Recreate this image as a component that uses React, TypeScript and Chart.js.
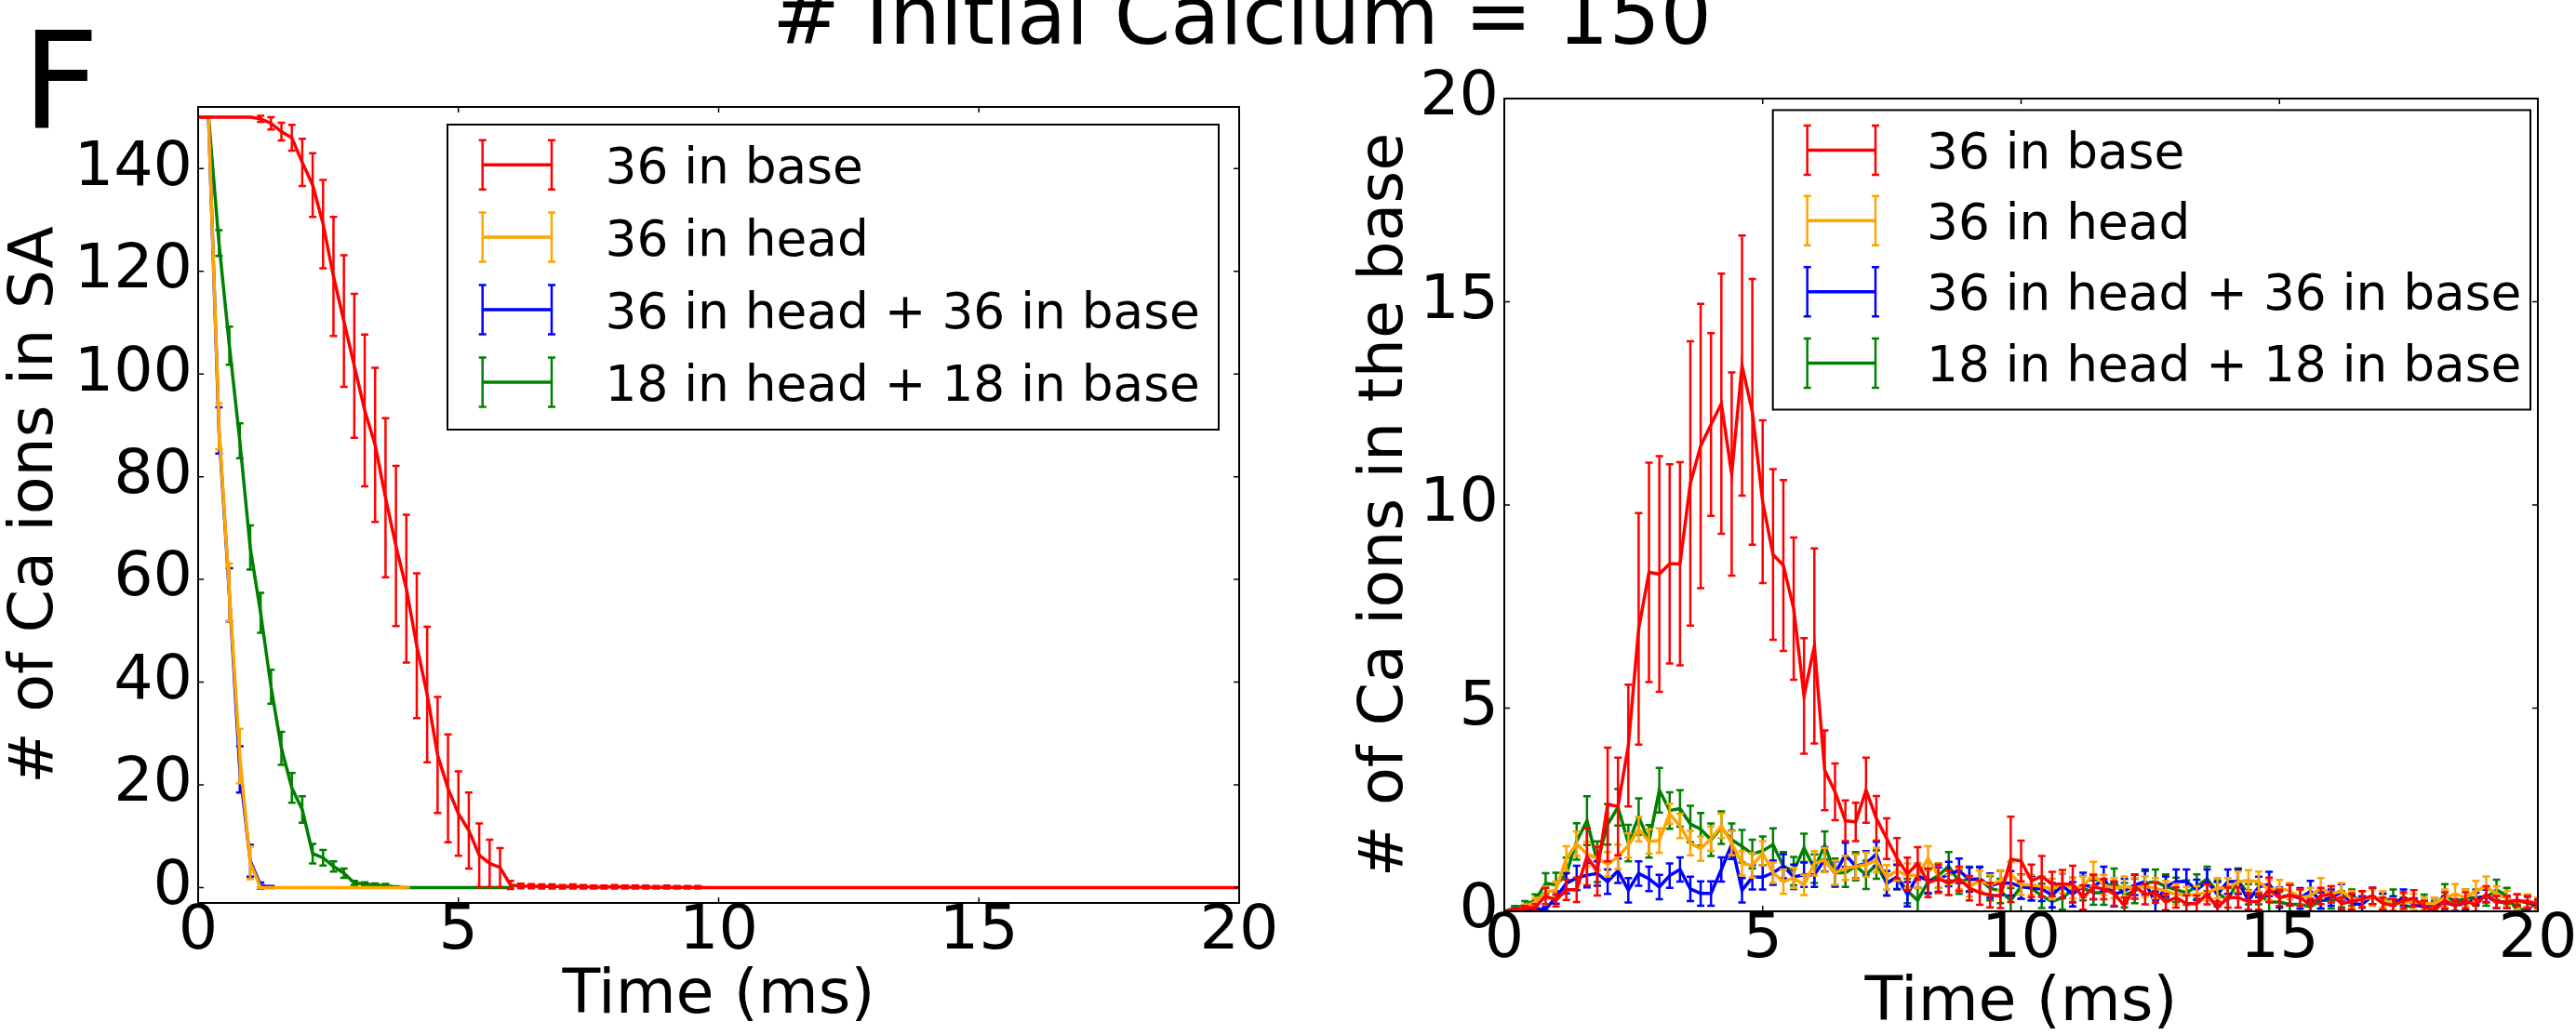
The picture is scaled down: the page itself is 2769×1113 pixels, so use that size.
import React, { useEffect, useRef } from 'react';
import { Chart, registerables } from 'chart.js';

Chart.register(...registerables);

const FONT = "'DejaVu Sans', 'Bitstream Vera Sans', sans-serif";

// ---------- data ----------
const timeMs = [0,0.2,0.4,0.6,0.8,1,1.2,1.4,1.6,1.8,2,2.2,2.4,2.6,2.8,3,3.2,3.4,3.6,3.8,4,4.2,4.4,4.6,4.8,5,5.2,5.4,5.6,5.8,6,6.2,6.4,6.6,6.8,7,7.2,7.4,7.6,7.8,8,8.2,8.4,8.6,8.8,9,9.2,9.4,9.6,9.8,10,10.2,10.4,10.6,10.8,11,11.2,11.4,11.6,11.8,12,12.2,12.4,12.6,12.8,13,13.2,13.4,13.6,13.8,14,14.2,14.4,14.6,14.8,15,15.2,15.4,15.6,15.8,16,16.2,16.4,16.6,16.8,17,17.2,17.4,17.6,17.8,18,18.2,18.4,18.6,18.8,19,19.2,19.4,19.6,19.8,20];

const seriesNames = ['36 in base', '36 in head', '36 in head + 36 in base', '18 in head + 18 in base'];
const seriesColors = ['#ff0000', '#ffa500', '#0000ff', '#008000'];

const xTicks = [0, 5, 10, 15, 20];
const leftYTicks = [0, 20, 40, 60, 80, 100, 120, 140];
const rightYTicks = [0, 5, 10, 15, 20];

// Left panel: # of Ca ions in SA
const redSA = [150,150,150,150,150,150,149.7,148.8,147.2,146.0,141.2,136.8,129.2,119.0,110.3,101.6,92.9,86.2,75.9,66.5,58.2,47.1,37.6,25.8,19.3,14.4,11.1,6.3,4.7,3.9,0.5,0.3,0.25,0.2,0.2,0.15,0.2,0.15,0.1,0.1,0.15,0.1,0.1,0.1,0.05,0.1,0.05,0.05,0.05,0,0,0,0,0,0,0,0,0,0,0,0,0,0,0,0,0,0,0,0,0,0,0,0,0,0,0,0,0,0,0,0,0,0,0,0,0,0,0,0,0,0,0,0,0,0,0,0,0,0,0,0];
const redSAErr = [0,0,0,0,0,0,0.6,1.2,1.7,2.5,4.6,6.2,8.6,11.6,12.8,14.0,14.8,15.0,15.5,15.6,14.4,14.1,13.2,11.3,10.5,8.2,7.4,6.2,4.6,3.8,0.8,0.45,0.4,0.4,0.4,0.35,0.4,0.35,0.3,0.3,0.35,0.3,0.3,0.3,0.25,0.3,0.25,0.25,0.25,0,0,0,0,0,0,0,0,0,0,0,0,0,0,0,0,0,0,0,0,0,0,0,0,0,0,0,0,0,0,0,0,0,0,0,0,0,0,0,0,0,0,0,0,0,0,0,0,0,0,0,0];
const orangeSA = [150,150,89.8,57.5,25.6,4.8,0,0,0,0,0,0,0,0,0,0,0,0,0,0,0];
const orangeSAErr = [0,0,4.5,5.6,5.3,3.2,0.1,0,0,0,0,0,0,0,0,0,0,0,0,0,0];
const blueSA = [150,150,89.0,57.0,23.0,5.2,0.4,0.1];
const blueSAErr = [0,0,4.5,5.2,4.5,3.1,0.6,0.2];
const greenSA = [150,150,125.5,105.5,87.0,66.2,53.5,39.1,27.1,19.4,15.2,6.6,5.8,4.1,2.8,0.9,0.7,0.5,0.4,0.1,0,0,0,0,0,0,0,0,0,0,0];
const greenSAErr = [0,0,2.5,3.7,3.4,4.3,3.9,3.3,3.2,2.9,2.6,1.9,1.5,1.0,0.9,0.4,0.35,0.3,0.3,0.15,0,0,0,0,0,0,0,0,0,0,0];

// Right panel: # of Ca ions in the base
const redBase = [0,0.04,0.08,0.1,0.38,0.27,0.53,0.53,1.34,0.99,2.63,2.58,4.08,6.95,8.34,8.3,8.55,8.55,10.53,11.45,11.98,12.49,10.76,13.43,12.29,10.08,8.78,8.51,7.45,5.3,6.53,3.47,2.94,2.23,2.2,2.98,2.29,1.79,1.3,0.92,1.18,0.7,0.8,0.7,0.8,0.57,0.46,0.4,0.38,1.28,1.24,0.75,0.86,0.67,0.67,0.67,0.34,0.6,0.55,0.44,0.14,0.61,0.42,0.46,0.23,0.34,0.19,0.19,0.42,0.09,0.34,0.34,0.24,0.24,0.53,0.33,0.4,0.34,0.15,0.38,0.42,0.19,0.24,0.3,0.38,0.19,0.15,0.27,0.32,0.11,0.02,0.27,0.13,0.27,0.15,0.42,0.23,0.23,0.27,0.23,0.19];
const redBaseErr = [0,0.03,0.05,0.08,0.2,0.15,0.25,0.3,0.7,0.6,1.4,1.2,1.5,2.85,2.7,2.9,2.45,2.5,3.5,3.5,2.25,3.2,2.5,3.2,3.27,2.0,2.1,2.1,1.75,1.42,2.4,0.98,0.7,0.5,0.47,0.8,0.55,0.5,0.5,0.4,0.4,0.35,0.35,0.3,0.3,0.3,0.3,0.3,0.3,1.05,0.5,0.4,0.5,0.3,0.35,0.45,0.3,0.3,0.25,0.3,0.2,0.3,0.25,0.25,0.2,0.25,0.2,0.2,0.25,0.15,0.25,0.25,0.2,0.2,0.3,0.2,0.25,0.2,0.15,0.2,0.2,0.15,0.2,0.2,0.2,0.15,0.15,0.2,0.2,0.15,0.1,0.2,0.15,0.2,0.15,0.2,0.15,0.15,0.15,0.15,0.1];
const orangeBase = [0,0.02,0.11,0.23,0.46,0.53,1.3,1.66,1.41,1.3,1.16,1.34,1.62,2.02,1.72,1.74,2.4,2.1,1.68,1.54,1.79,2.1,1.68,1.18,1.13,1.43,0.95,0.73,0.82,0.65,1.18,1.26,0.95,1.07,1.1,1.15,1.26,0.84,1.0,0.88,0.88,1.3,0.88,0.65,0.8,0.61,0.75,0.65,0.76,0.92,0.65,0.65,0.61,0.55,0.69,0.57,0.61,0.92,0.65,0.57,0.61,0.57,0.61,0.57,0.5,0.42,0.4,0.42,0.46,0.57,0.57,0.73,0.76,0.73,0.53,0.57,0.5,0.34,0.38,0.57,0.42,0.5,0.3,0.3,0.34,0.3,0.17,0.23,0.23,0.19,0.19,0.34,0.42,0.34,0.5,0.61,0.42,0.31,0.23,0.27,0.19];
const orangeBaseErr = [0,0.02,0.06,0.1,0.15,0.2,0.3,0.3,0.3,0.3,0.3,0.3,0.3,0.3,0.3,0.3,0.25,0.3,0.3,0.3,0.3,0.3,0.3,0.3,0.3,0.3,0.25,0.3,0.25,0.25,0.3,0.3,0.3,0.3,0.3,0.3,0.3,0.3,0.25,0.3,0.3,0.3,0.3,0.25,0.25,0.25,0.25,0.25,0.25,0.3,0.25,0.25,0.25,0.25,0.25,0.25,0.25,0.3,0.25,0.25,0.25,0.25,0.25,0.25,0.25,0.25,0.2,0.2,0.2,0.25,0.25,0.25,0.25,0.25,0.25,0.2,0.2,0.2,0.2,0.25,0.2,0.2,0.2,0.2,0.2,0.2,0.15,0.2,0.2,0.15,0.15,0.2,0.25,0.2,0.25,0.25,0.2,0.2,0.2,0.15,0.15];
const blueBase = [0,0,0.02,0.04,0.06,0.34,0.69,0.82,0.89,0.93,0.73,1.0,0.52,0.93,0.8,0.6,0.88,1.03,0.55,0.44,0.44,1.03,1.64,0.52,0.84,0.84,0.95,1.11,0.85,0.9,0.9,1.28,0.93,1.39,1.11,1.18,1.41,0.69,0.85,0.42,0.88,0.75,0.78,0.92,1.0,0.78,0.8,0.63,0.7,0.69,0.61,0.57,0.55,0.4,0.63,0.42,0.65,0.6,0.8,0.42,0.5,0.65,0.73,0.19,0.61,0.73,0.73,0.53,0.73,0.42,0.73,0.73,0.27,0.6,0.67,0.34,0.4,0.32,0.5,0.27,0.34,0.47,0.19,0.17,0.38,0.23,0.17,0.34,0.17,0.11,0.19,0.21,0.15,0.19,0.31,0.38,0.23,0.23,0.27,0.21,0.17];
const blueBaseErr = [0,0,0.02,0.04,0.05,0.15,0.25,0.3,0.3,0.3,0.3,0.3,0.3,0.3,0.3,0.3,0.3,0.3,0.3,0.3,0.3,0.3,0.35,0.3,0.3,0.3,0.3,0.3,0.3,0.3,0.3,0.3,0.3,0.3,0.3,0.3,0.3,0.3,0.3,0.3,0.3,0.3,0.3,0.3,0.3,0.3,0.3,0.3,0.3,0.3,0.3,0.3,0.3,0.3,0.3,0.3,0.3,0.3,0.3,0.3,0.3,0.25,0.3,0.3,0.25,0.3,0.3,0.25,0.3,0.3,0.3,0.3,0.25,0.25,0.3,0.25,0.25,0.25,0.25,0.2,0.2,0.2,0.2,0.2,0.2,0.2,0.2,0.2,0.15,0.15,0.15,0.15,0.15,0.15,0.15,0.15,0.15,0.15,0.15,0.15,0.1];
const greenBase = [0,0.08,0.15,0.27,0.69,0.65,0.92,1.72,2.23,1.22,2.14,2.56,1.68,2.33,1.72,2.98,2.48,2.53,2.15,2.02,1.76,2.06,1.76,1.6,1.41,1.49,1.64,1.11,0.99,1.56,1.05,1.62,0.95,0.95,1.11,0.9,1.15,0.69,0.84,0.5,0.27,0.73,0.88,1.11,0.73,0.8,0.78,0.57,0.5,0.27,0.61,0.57,0.38,0.24,0.34,0.53,0.57,0.46,0.46,0.75,0.4,0.5,0.69,0.73,0.61,0.53,0.46,0.61,0.8,0.46,0.27,0.76,0.42,0.42,0.23,0.23,0.17,0.17,0.11,0.27,0.27,0.3,0.34,0.29,0.38,0.24,0.34,0.14,0.11,0.21,0.11,0.42,0.21,0.34,0.34,0.34,0.53,0.38,0.02,0.08,0.19];
const greenBaseErr = [0,0.05,0.1,0.15,0.25,0.3,0.4,0.45,0.6,0.5,0.5,0.45,0.45,0.45,0.4,0.55,0.45,0.45,0.45,0.4,0.4,0.4,0.4,0.4,0.35,0.35,0.4,0.35,0.35,0.35,0.35,0.35,0.35,0.35,0.35,0.35,0.35,0.3,0.3,0.3,0.3,0.3,0.3,0.35,0.3,0.3,0.3,0.3,0.3,0.3,0.3,0.3,0.3,0.3,0.3,0.3,0.3,0.3,0.3,0.3,0.3,0.3,0.3,0.3,0.3,0.3,0.3,0.3,0.3,0.3,0.3,0.3,0.25,0.25,0.25,0.25,0.2,0.2,0.2,0.2,0.2,0.2,0.2,0.2,0.2,0.2,0.2,0.2,0.2,0.2,0.15,0.25,0.2,0.2,0.2,0.2,0.25,0.2,0.15,0.15,0.15];

// ---------- helpers ----------
function points(values: number[]) {
  return values.map((v, i) => ({ x: timeMs[i], y: v }));
}

const errorBarPlugin = {
  id: 'errorBars',
  afterDatasetDraw(chart: any, args: any) {
    const ds = chart.data.datasets[args.index];
    const errs: number[] | undefined = ds.errors;
    if (!errs) return;
    const xs = chart.scales.x;
    const ys = chart.scales.y;
    const a = chart.chartArea;
    const ctx = chart.ctx;
    const cap = 4;
    ctx.save();
    ctx.beginPath();
    ctx.rect(a.left, a.top, a.right - a.left, a.bottom - a.top);
    ctx.clip();
    ctx.strokeStyle = ds.borderColor;
    ctx.lineWidth = 2.5;
    ctx.beginPath();
    ds.data.forEach((p: any, i: number) => {
      const e = errs[i];
      if (e === undefined || e === null) return;
      const px = xs.getPixelForValue(p.x);
      const y1 = ys.getPixelForValue(p.y - e);
      const y2 = ys.getPixelForValue(p.y + e);
      ctx.moveTo(px, y1);
      ctx.lineTo(px, y2);
      ctx.moveTo(px - cap, y1);
      ctx.lineTo(px + cap, y1);
      ctx.moveTo(px - cap, y2);
      ctx.lineTo(px + cap, y2);
    });
    ctx.stroke();
    ctx.restore();
  },
};

const frameTicksPlugin = {
  id: 'frameTicks',
  afterDatasetsDraw(chart: any) {
    const ctx = chart.ctx;
    const a = chart.chartArea;
    const xs = chart.scales.x;
    const ys = chart.scales.y;
    const L = 6;
    ctx.save();
    ctx.strokeStyle = '#000';
    ctx.lineWidth = 1.5;
    ctx.beginPath();
    xs.ticks.forEach((t: any) => {
      const p = xs.getPixelForValue(t.value);
      ctx.moveTo(p, a.bottom);
      ctx.lineTo(p, a.bottom - L);
      ctx.moveTo(p, a.top);
      ctx.lineTo(p, a.top + L);
    });
    ys.ticks.forEach((t: any) => {
      const p = ys.getPixelForValue(t.value);
      ctx.moveTo(a.left, p);
      ctx.lineTo(a.left + L, p);
      ctx.moveTo(a.right, p);
      ctx.lineTo(a.right - L, p);
    });
    ctx.stroke();
    ctx.lineWidth = 2;
    ctx.strokeRect(a.left, a.top, a.right - a.left, a.bottom - a.top);
    ctx.restore();
  },
};

const errLegendPlugin = {
  id: 'errLegend',
  afterDraw(chart: any, _args: any, opts: any) {
    if (!opts || !opts.box) return;
    const ctx = chart.ctx;
    const b = opts.box;
    ctx.save();
    ctx.fillStyle = '#fff';
    ctx.fillRect(b.x1, b.y1, b.x2 - b.x1, b.y2 - b.y1);
    ctx.strokeStyle = '#000';
    ctx.lineWidth = 2;
    ctx.strokeRect(b.x1, b.y1, b.x2 - b.x1, b.y2 - b.y1);
    const half = 26.5;
    const cap = 4;
    chart.data.datasets.forEach((ds: any, i: number) => {
      const y = opts.rows[i];
      ctx.strokeStyle = ds.borderColor;
      ctx.lineWidth = 3.5;
      ctx.beginPath();
      ctx.moveTo(opts.hx1, y);
      ctx.lineTo(opts.hx2, y);
      ctx.stroke();
      ctx.lineWidth = 2.5;
      ctx.beginPath();
      [opts.hx1, opts.hx2].forEach((hx: number) => {
        ctx.moveTo(hx, y - half);
        ctx.lineTo(hx, y + half);
        ctx.moveTo(hx - cap, y - half);
        ctx.lineTo(hx + cap, y - half);
        ctx.moveTo(hx - cap, y + half);
        ctx.lineTo(hx + cap, y + half);
      });
      ctx.stroke();
      ctx.fillStyle = '#000';
      ctx.font = `53.3px ${FONT}`;
      ctx.textBaseline = 'alphabetic';
      ctx.textAlign = 'left';
      ctx.fillText(ds.label, opts.textX, y + 19.5);
    });
    ctx.restore();
  },
};

function makeConfig(p: any) {
  // dataset 0 (red) is drawn last (on top), green first (underneath)
  const datasets = p.series.map((s: any, i: number) => ({
    label: seriesNames[i],
    data: points(s.values),
    errors: s.errors,
    borderColor: seriesColors[i],
    backgroundColor: seriesColors[i],
    borderWidth: 3.5,
    pointRadius: 0,
    tension: 0,
    fill: false,
    order: i,
  }));
  return {
    type: 'line',
    data: { datasets },
    plugins: [errorBarPlugin, frameTicksPlugin, errLegendPlugin],
    options: {
      responsive: false,
      animation: false,
      devicePixelRatio: 1,
      layout: { padding: p.padding },
      plugins: {
        legend: { display: false },
        tooltip: { enabled: false },
        errLegend: p.legend,
      },
      scales: {
        x: {
          type: 'linear',
          min: 0,
          max: 20,
          afterBuildTicks: (s: any) => {
            s.ticks = xTicks.map((v) => ({ value: v }));
          },
          afterFit: (s: any) => {
            s.height = p.xAxisHeight;
            s.paddingLeft = 0;
            s.paddingRight = 0;
          },
          grid: { display: false, drawTicks: false },
          border: { display: false },
          ticks: {
            color: '#000',
            font: { family: FONT, size: 66.7, lineHeight: 1.0 },
            padding: p.xTickPadding,
            maxRotation: 0,
            autoSkip: false,
          },
          title: {
            display: true,
            text: 'Time (ms)',
            color: '#000',
            font: { family: FONT, size: 66.7, lineHeight: 1.0 },
            padding: { top: 0, bottom: p.xTitlePad },
          },
        },
        y: {
          type: 'linear',
          min: p.yMin,
          max: p.yMax,
          afterBuildTicks: (s: any) => {
            s.ticks = p.yTicks.map((v: number) => ({ value: v }));
          },
          afterFit: (s: any) => {
            s.width = p.yAxisWidth;
            s.paddingTop = 0;
            s.paddingBottom = 0;
          },
          grid: { display: false, drawTicks: false },
          border: { display: false },
          ticks: {
            color: '#000',
            font: { family: FONT, size: 66.7, lineHeight: 1.0 },
            padding: 6,
            autoSkip: false,
          },
          title: {
            display: true,
            text: p.yTitle,
            color: '#000',
            font: { family: FONT, size: 66.7, lineHeight: 1.16 },
            padding: { top: p.yTitlePad, bottom: 0 },
          },
        },
      },
    },
  };
}

export default function App() {
  const leftRef = useRef<HTMLCanvasElement | null>(null);
  const rightRef = useRef<HTMLCanvasElement | null>(null);

  useEffect(() => {
    Chart.defaults.font.family = FONT;
    Chart.defaults.color = '#000';
    const left = new Chart(
      leftRef.current as HTMLCanvasElement,
      makeConfig({
        series: [
          { values: redSA, errors: redSAErr },
          { values: orangeSA, errors: orangeSAErr },
          { values: blueSA, errors: blueSAErr },
          { values: greenSA, errors: greenSAErr },
        ],
        padding: { left: 0, top: 115, right: 68, bottom: 0 },
        xAxisHeight: 142,
        yAxisWidth: 213,
        yMin: -3,
        yMax: 152,
        yTicks: leftYTicks,
        yTitle: '# of Ca ions in SA',
        yTitlePad: 0,
        xTickPadding: -1.5,
        xTitlePad: 7.7,
        legend: {
          box: { x1: 481, y1: 134, x2: 1310, y2: 462 },
          rows: [177.3, 255, 333, 411],
          hx1: 518.7,
          hx2: 593,
          textX: 650.5,
        },
      }) as any
    );
    const right = new Chart(
      rightRef.current as HTMLCanvasElement,
      makeConfig({
        series: [
          { values: redBase, errors: redBaseErr },
          { values: orangeBase, errors: orangeBaseErr },
          { values: blueBase, errors: blueBaseErr },
          { values: greenBase, errors: greenBaseErr },
        ],
        padding: { left: 0, top: 106, right: 41, bottom: 0 },
        xAxisHeight: 133,
        yAxisWidth: 217,
        yMin: 0,
        yMax: 20,
        yTicks: rightYTicks,
        yTitle: '# of Ca ions in the base',
        yTitlePad: 51.4,
        xTickPadding: -1.5,
        xTitlePad: 0,
        legend: {
          box: { x1: 505.7, y1: 118.4, x2: 1320, y2: 440.5 },
          rows: [161.5, 237.3, 313.7, 390.5],
          hx1: 542.7,
          hx2: 616,
          textX: 671,
        },
      }) as any
    );
    return () => {
      left.destroy();
      right.destroy();
    };
  }, []);

  return (
    <div
      style={{
        position: 'absolute',
        left: 0,
        top: 0,
        width: 2769,
        height: 1113,
        background: '#fff',
        overflow: 'hidden',
      }}
    >
      <canvas
        ref={leftRef}
        width={1400}
        height={1113}
        style={{ position: 'absolute', left: 0, top: 0, width: 1400, height: 1113 }}
      />
      <canvas
        ref={rightRef}
        width={1369}
        height={1113}
        style={{ position: 'absolute', left: 1400, top: 0, width: 1369, height: 1113 }}
      />
      <div
        style={{
          position: 'absolute',
          left: 335,
          top: -26.4,
          width: 2000,
          textAlign: 'center',
          fontFamily: FONT,
          fontSize: '86.7px',
          lineHeight: '86.7px',
          color: '#000',
          whiteSpace: 'nowrap',
        }}
      >
        # Initial Calcium = 150
      </div>
      <div
        style={{
          position: 'absolute',
          left: 23.8,
          top: 14.8,
          fontFamily: FONT,
          fontSize: '144.4px',
          lineHeight: '144.4px',
          color: '#000',
          whiteSpace: 'nowrap',
        }}
      >
        F
      </div>
    </div>
  );
}
